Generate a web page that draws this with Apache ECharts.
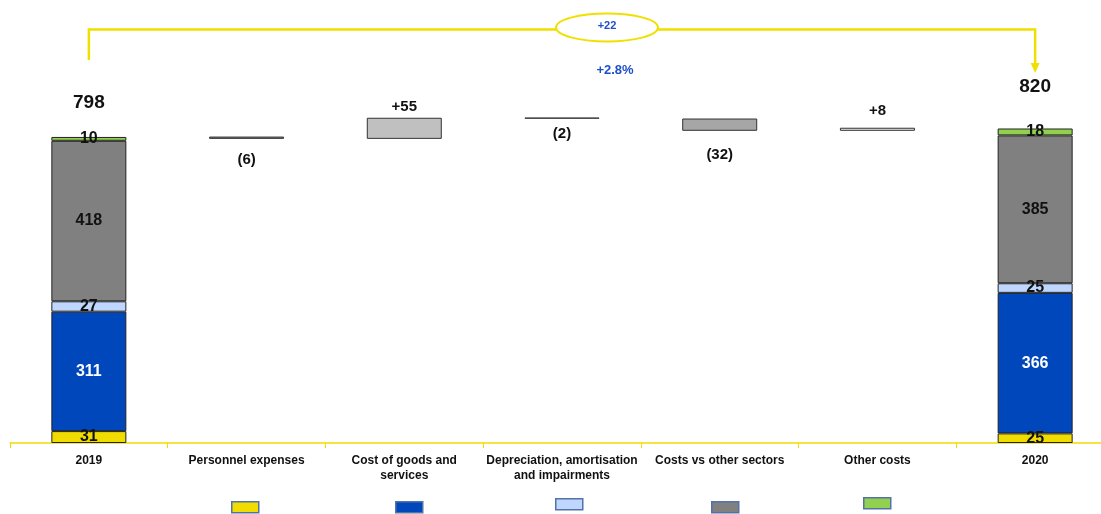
<!DOCTYPE html>
<html>
<head>
<meta charset="utf-8">
<script src="https://cdn.jsdelivr.net/npm/echarts@6/dist/echarts.min.js"></script>
<style>
  html, body { margin: 0; padding: 0; background: #fff; overflow: hidden; }
  /* plot runs a little past the right edge of the window, as in the original slide */
  #chart { width: 1114px; height: 514px; }
</style>
</head>
<body>
<div id="chart"></div>
<script>
// categories on the x axis
var categories = ["2019", "Personnel expenses", "Cost of goods and\nservices",
  "Depreciation, amortisation\nand impairments", "Costs vs other sectors", "Other costs", "2020"];

// stacked components of the two totals (bottom to top)
var costNames = ["Personnel expenses", "Cost of goods and services",
  "Depreciation, amortisation and impairments", "Costs vs other sectors", "Other costs"];
var values2019 = [31, 311, 27, 418, 10];
var values2020 = [25, 366, 25, 385, 18];
var totals = [798, 820];

// bridge steps between 2019 and 2020
var deltas = [-6, 55, -2, -32, 8];
var deltaLabels = ["(6)", "+55", "(2)", "(32)", "+8"];

var change = "+22";
var changePct = "+2.8%";

var font = "'Liberation Sans', Arial, sans-serif";
var stackColors = ["#F0DC00", "#0047BB", "#BFD7FF", "#808080", "#92D050"];
var stepFill = ["#8C8C8C", "#C0C0C0", "#000000", "#A6A6A6", "#E6E6E6"];
var stepLabelDist = [13, 3, 8, 17, 9];
var legendPos = [[231, 501], [395, 501], [555, 498], [711, 501], [863, 497]];

var chart = echarts.init(document.getElementById("chart"));

// waterfall bases
var base = [null], steps = [null];
var run = totals[0];
deltas.forEach(function (d, i) {
  var next = run + d;
  base.push(Math.min(run, next));
  steps.push({
    value: Math.abs(d),
    itemStyle: { color: stepFill[i] },
    label: {
      show: true,
      position: d >= 0 ? "top" : "bottom",
      distance: stepLabelDist[i],
      formatter: deltaLabels[i]
    }
  });
  run = next;
});
base.push(null);
steps.push(null);

var series = costNames.map(function (name, i) {
  return {
    name: name,
    type: "bar",
    stack: "total",
    barWidth: 75,
    itemStyle: { color: stackColors[i], borderColor: "#222", borderWidth: 1 },
    label: {
      show: true,
      position: "inside",
      color: i === 1 ? "#fff" : "#111",
      fontFamily: font,
      fontWeight: "bold",
      fontSize: 16
    },
    data: [values2019[i], null, null, null, null, null, values2020[i]]
  };
});

series.push({
  name: "base",
  type: "bar",
  stack: "total",
  itemStyle: { color: "transparent" },
  data: base
});
series.push({
  name: "steps",
  type: "bar",
  stack: "total",
  itemStyle: { borderColor: "#333", borderWidth: 1 },
  label: { color: "#111", fontFamily: font, fontWeight: "bold", fontSize: 15 },
  data: steps
});
// zero-height cap on top of each total carrying the total label
series.push({
  name: "totals",
  type: "bar",
  stack: "total",
  itemStyle: { color: "transparent", borderWidth: 0 },
  label: {
    show: true,
    position: "top",
    color: "#111",
    fontFamily: font,
    fontWeight: "bold",
    fontSize: 19
  },
  data: [
    { value: 0, label: { distance: 25, formatter: String(totals[0]) } },
    null, null, null, null, null,
    { value: 0, label: { distance: 32, formatter: String(totals[1]) } }
  ]
});

var legends = costNames.map(function (name, i) {
  return {
    data: [name],
    left: legendPos[i][0],
    top: legendPos[i][1],
    padding: 0,
    itemWidth: 27,
    itemHeight: 11,
    icon: "rect",
    formatter: function () { return ""; },
    itemStyle: { borderColor: "#5572A8", borderWidth: 1.5 },
    selectedMode: false
  };
});

chart.setOption({
  animation: false,
  legend: legends,
  grid: { left: 10, right: 0, top: 59, bottom: 71 },
  xAxis: {
    type: "category",
    data: categories,
    axisLine: { show: true, lineStyle: { color: "#F0DC00", width: 1.5 } },
    axisTick: { show: true, lineStyle: { color: "#F0DC00", width: 1 }, length: 5, interval: 0, alignWithLabel: false },
    splitLine: { show: false },
    axisLabel: {
      interval: 0,
      margin: 10,
      color: "#111",
      fontFamily: font,
      fontWeight: "bold",
      fontSize: 12,
      lineHeight: 15
    }
  },
  yAxis: { type: "value", min: 0, max: 1000, show: false, splitLine: { show: false } },
  series: series
});

// bracket with the overall change between the two totals
var xL = chart.convertToPixel({ xAxisIndex: 0 }, categories[0]);
var xR = chart.convertToPixel({ xAxisIndex: 0 }, categories[6]);
var yel = "#F0E000";
var blue = "#1F4FC8";
chart.setOption({
  graphic: [
    {
      type: "polyline",
      shape: { points: [[xL, 60], [xL, 29.5], [xR, 29.5], [xR, 65]] },
      style: { stroke: yel, lineWidth: 2.5, fill: null }
    },
    {
      type: "polygon",
      shape: { points: [[xR - 4.5, 63], [xR + 4.5, 63], [xR, 73]] },
      style: { fill: yel }
    },
    {
      type: "ellipse",
      shape: { cx: 607, cy: 27.5, rx: 51, ry: 14 },
      style: { fill: "#fff", stroke: yel, lineWidth: 2 }
    },
    {
      type: "text",
      x: 607, y: 26,
      style: { text: change, fill: blue, font: "bold 11px " + font, align: "center", verticalAlign: "middle" }
    },
    {
      type: "text",
      x: 615, y: 70,
      style: { text: changePct, fill: blue, font: "bold 13px " + font, align: "center", verticalAlign: "middle" }
    }
  ]
});
</script>
</body>
</html>
